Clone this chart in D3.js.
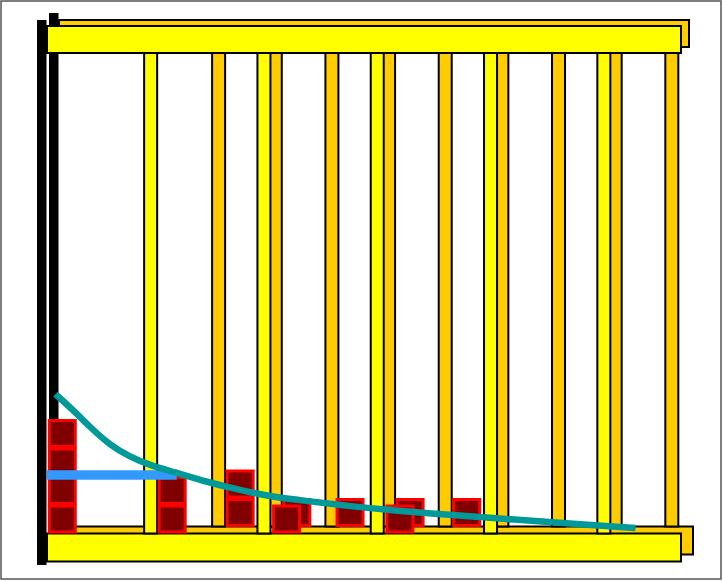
<!DOCTYPE html>
<html>
<head>
<meta charset="utf-8">
<script src="https://cdn.jsdelivr.net/npm/d3@7"></script>
<style>
  html, body { margin: 0; padding: 0; background: #fff; }
  svg { display: block; }
</style>
</head>
<body>
<svg id="chart" width="723" height="581"></svg>
<script>
// ---------------- data ----------------
// front row of unit columns (category position, count)
const frontCats   = [0.02, 0.99, 2.0, 3.0];
const frontCounts = [4, 2, 1, 1];
// back row of unit columns
const backCats    = [1.59, 2.09, 2.56, 3.09, 3.59];
const backCounts  = [2, 1, 1, 1, 1];
// frame posts (category positions)
const frontPosts  = [0.8, 1.8, 2.8, 3.8, 4.8];
const backPosts   = [1.4, 1.9, 2.4, 2.9, 3.4, 3.9, 4.4, 4.9, 5.4];
// mean line
const meanValue   = 2;
const meanFrom    = -0.115;
const meanTo      = 1.03;
// fitted curve
const curveX = [-0.04, 0.115, 0.265, 0.44, 0.62, 0.79, 1.0, 1.30, 1.59, 1.88, 2.18, 2.55, 2.91, 3.18, 4.06, 4.65, 5.08];
const curveY = [4.84, 4.28, 3.68, 3.05, 2.63, 2.35, 2.11, 1.75, 1.47, 1.23, 1.09, 0.91, 0.77, 0.68, 0.42, 0.25, 0.14];

// ---------------- scales ----------------
const svg = d3.select("#chart");
const x  = d3.scaleLinear().domain([0, 1]).range([60, 173.3]);
const yF = d3.scaleLinear().domain([0, 1]).range([532, 503.5]);   // front floor
const yB = d3.scaleLinear().domain([0, 1]).range([525.5, 497]);   // back floor

const YELLOW = "#FFFF00", ORANGE = "#FFCC00", MAROON = "#800000", RED = "#FF0000";
const BLUE = "#3399FF", TEAL = "#009999";
const SQ = 26, POST_W = 13;

// outer border
svg.append("rect").attr("x", 1).attr("y", 1).attr("width", 720).attr("height", 578)
  .attr("fill", "#fff").attr("stroke", "#555").attr("stroke-width", 1.5);

// ---------------- back layer ----------------
const back = svg.append("g");
back.append("rect").attr("x", 49).attr("y", 13).attr("width", 9.5).attr("height", 542).attr("fill", "#000");
back.append("rect").attr("x", 59).attr("y", 20).attr("width", 630).attr("height", 27)
  .attr("fill", ORANGE).attr("stroke", "#000").attr("stroke-width", 2);
back.append("rect").attr("x", 59).attr("y", 526.5).attr("width", 634).attr("height", 28)
  .attr("fill", ORANGE).attr("stroke", "#000").attr("stroke-width", 2);
back.selectAll("rect.bpost").data(backPosts).join("rect").attr("class", "bpost")
  .attr("x", d => x(d) - POST_W / 2).attr("y", 47).attr("width", POST_W).attr("height", 479.5)
  .attr("fill", ORANGE).attr("stroke", "#000").attr("stroke-width", 2);

const backUnits = [];
backCats.forEach((c, i) => { for (let k = 0; k < backCounts[i]; k++) backUnits.push({c, k}); });
back.selectAll("rect.bunit").data(backUnits).join("rect").attr("class", "bunit")
  .attr("x", d => x(d.c) - SQ / 2).attr("y", d => yB(d.k) - SQ)
  .attr("width", SQ).attr("height", SQ)
  .attr("fill", MAROON).attr("stroke", RED).attr("stroke-width", 3);

// ---------------- front layer ----------------
const front = svg.append("g");
front.append("rect").attr("x", 47).attr("y", 26).attr("width", 634).attr("height", 27)
  .attr("fill", YELLOW).attr("stroke", "#000").attr("stroke-width", 2);
front.append("rect").attr("x", 47).attr("y", 533.5).attr("width", 634).attr("height", 28)
  .attr("fill", YELLOW).attr("stroke", "#000").attr("stroke-width", 2);
front.selectAll("rect.fpost").data(frontPosts).join("rect").attr("class", "fpost")
  .attr("x", d => x(d) - POST_W / 2).attr("y", 53).attr("width", POST_W).attr("height", 480.5)
  .attr("fill", YELLOW).attr("stroke", "#000").attr("stroke-width", 2);
front.append("rect").attr("x", 37).attr("y", 20).attr("width", 9.5).attr("height", 545).attr("fill", "#000");

const frontUnits = [];
frontCats.forEach((c, i) => { for (let k = 0; k < frontCounts[i]; k++) frontUnits.push({c, k}); });
front.selectAll("rect.funit").data(frontUnits).join("rect").attr("class", "funit")
  .attr("x", d => x(d.c) - SQ / 2).attr("y", d => yF(d.k) - SQ)
  .attr("width", SQ).attr("height", SQ)
  .attr("fill", MAROON).attr("stroke", RED).attr("stroke-width", 3);

// mean line
svg.append("line")
  .attr("x1", x(meanFrom)).attr("x2", x(meanTo))
  .attr("y1", yF(meanValue)).attr("y2", yF(meanValue))
  .attr("stroke", BLUE).attr("stroke-width", 9.5);

// fitted curve
const pts = curveX.map((v, i) => [v, curveY[i]]);
svg.append("path").datum(pts)
  .attr("d", d3.line().x(d => x(d[0])).y(d => yF(d[1])).curve(d3.curveBasis))
  .attr("fill", "none").attr("stroke", TEAL).attr("stroke-width", 6.5);
</script>
</body>
</html>
